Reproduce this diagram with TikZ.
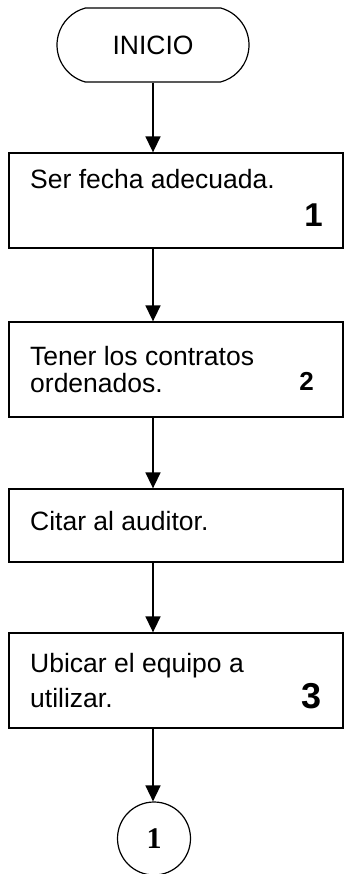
\documentclass[tikz,border=0pt]{standalone}
\usepackage{fontspec}
\setmainfont{Liberation Sans}
\newfontfamily\romana{Liberation Serif}
\usetikzlibrary{arrows.meta,shapes.misc}

\tikzset{
  terminal/.style={draw, line width=1.2pt, rounded rectangle, rounded rectangle arc length=150,
    minimum width=192pt, minimum height=74pt, inner sep=0pt},
  paso/.style={draw, line width=1.3pt, rectangle, minimum width=334pt, inner sep=0pt},
  texto/.style={anchor=base west, inner sep=0pt, font={\fontsize{26.5}{30}\selectfont}},
  numero/.style={anchor=base east, inner sep=0pt, font={\bfseries\fontsize{#1}{#1}\selectfont}},
  conector/.style={draw, line width=1.2pt, circle, minimum size=73pt, inner sep=0pt,
    font={\romana\bfseries\fontsize{30}{30}\selectfont}},
  flecha/.style={line width=1.6pt, -{Triangle[width=15pt,length=16pt]}}
}

\begin{document}
\begin{tikzpicture}[x=1pt,y=-1pt]

\useasboundingbox (0,0) rectangle (345,874);

\node [terminal, font={\fontsize{26.5}{30}\selectfont}] (inicio) at (153,45) {INICIO};

% pasos
\node [paso, minimum height=95pt] (p1) at (176,200.5) {};
\node [paso, minimum height=95pt] (p2) at (176,369.5) {};
\node [paso, minimum height=73pt] (p3) at (176,525.5) {};
\node [paso, minimum height=95pt] (p4) at (176,680.5) {};

\node [texto] (t1) at (30,189) {Ser fecha adecuada.};
\node [numero=33] (n1) at (323,227) {1};

\node [texto] (t2a) at (30,365) {Tener los contratos};
\node [texto] (t2b) at (30,392) {ordenados.};
\node [numero=26] (n2) at (314,390) {2};

\node [texto] (t3) at (30,530) {Citar al auditor.};

\node [texto] (t4a) at (30,672) {Ubicar el equipo a};
\node [texto] (t4b) at (30,707) {utilizar.};
\node [numero=36] (n4) at (322,708) {3};

\node [conector] (fin) at (154,838.5) {1};

% flechas
\draw [flecha] (inicio.south) -- (inicio.south |- p1.north);
\draw [flecha] (inicio.south |- p1.south) -- (inicio.south |- p2.north);
\draw [flecha] (inicio.south |- p2.south) -- (inicio.south |- p3.north);
\draw [flecha] (inicio.south |- p3.south) -- (inicio.south |- p4.north);
\draw [flecha] (inicio.south |- p4.south) -- (inicio.south |- fin.north);

\end{tikzpicture}
\end{document}
